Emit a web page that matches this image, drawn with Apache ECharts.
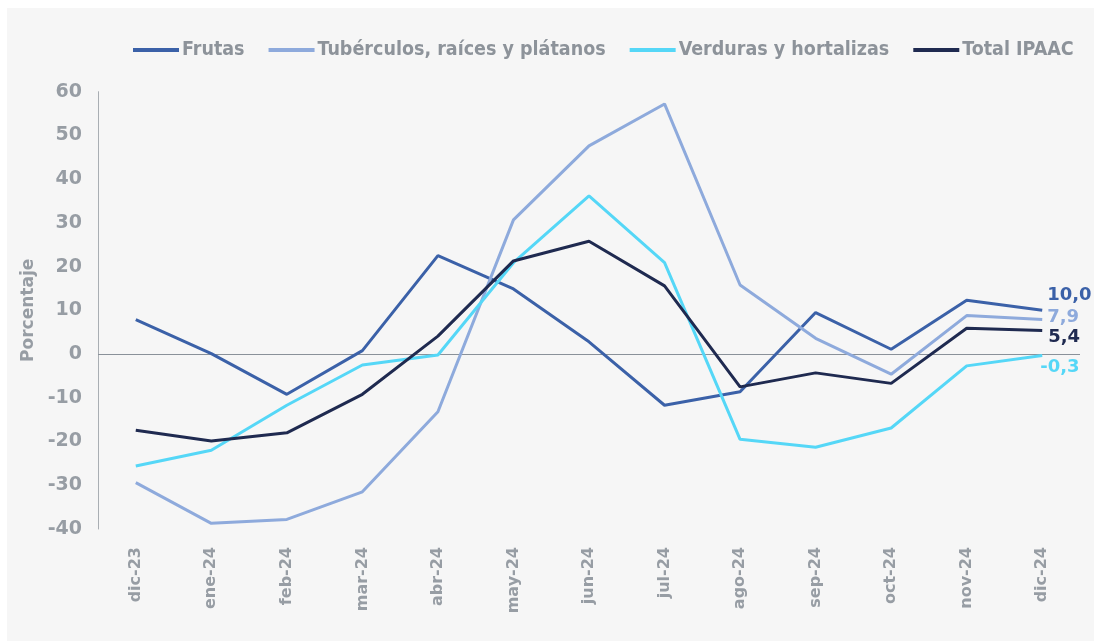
<!DOCTYPE html>
<html><head><meta charset="utf-8">
<script src="https://cdn.jsdelivr.net/npm/echarts@6/dist/echarts.min.js"></script>
<style>html,body{margin:0;padding:0;background:#fff;}#c{width:1094px;height:641px;}</style>
</head><body><div id="c"></div>
<script>
const categories = ['dic-23','ene-24','feb-24','mar-24','abr-24','may-24','jun-24','jul-24','ago-24','sep-24','oct-24','nov-24','dic-24'];
const frutas = [7.9, 0.1, -9.2, 0.8, 22.5, 14.9, 2.8, -11.7, -8.6, 9.5, 1.1, 12.3, 10.0];
const tuberculos = [-29.4, -38.7, -37.8, -31.5, -13.2, 30.7, 47.6, 57.2, 15.8, 3.6, -4.6, 8.8, 7.9];
const verduras = [-25.6, -22.0, -11.7, -2.5, -0.2, 20.9, 36.2, 20.9, -19.5, -21.3, -16.9, -2.7, -0.3];
const total = [-17.4, -19.9, -18.0, -9.2, 4.1, 21.3, 25.8, 15.6, -7.5, -4.3, -6.7, 5.9, 5.4];
const yTicks = [-40, -30, -20, -10, 0, 10, 20, 30, 40, 50, 60];
const seriesNames = ['Frutas', 'Tubérculos, raíces y plátanos', 'Verduras y hortalizas', 'Total IPAAC'];

const colors = ['#3b61a8', '#8eaadc', '#55d7f7', '#1f2a50'];
const grey = '#979da4';
const fam = '"DejaVu Sans", sans-serif';
const fmt = v => v.toFixed(1).replace('.', ',');
const endOffsets = [[0, -15], [0, -2], [-7, 12], [1, 7]];
const datas = [frutas, tuberculos, verduras, total];

const chart = echarts.init(document.getElementById('c'));
chart.setOption({
  backgroundColor: '#ffffff',
  animation: false,
  color: colors,
  graphic: [{type: 'rect', z: -10, shape: {x: 7, y: 8, width: 1087, height: 633}, style: {fill: '#f6f6f6'}}],
  legend: {
    left: 128, top: 35,
    itemWidth: 46, itemHeight: 4, itemGap: 24,
    icon: 'rect',
    textStyle: {color: '#8d939a', fontSize: 19.5, fontWeight: 'bold', fontFamily: '"DejaVu Sans Condensed", "Liberation Sans Narrow", sans-serif', padding: [0, 0, 0, -2]},
    data: seriesNames
  },
  grid: {left: 98, right: 14, top: 91.7, bottom: 112, containLabel: false},
  xAxis: {
    type: 'category', data: categories, boundaryGap: true,
    axisLine: {show: false}, axisTick: {show: false},
    axisLabel: {rotate: 90, margin: 18, color: grey, fontSize: 16, fontWeight: 'bold', fontFamily: fam}
  },
  yAxis: {
    type: 'value', min: yTicks[0], max: yTicks[yTicks.length - 1], interval: 10,
    name: 'Porcentaje', nameLocation: 'middle', nameRotate: 90, nameGap: 60,
    nameTextStyle: {color: grey, fontSize: 17, fontWeight: 'bold', fontFamily: fam},
    axisLine: {show: true, lineStyle: {color: '#a9aeb3', width: 1}},
    axisTick: {show: false}, splitLine: {show: false},
    axisLabel: {margin: 16, color: grey, fontSize: 19, fontWeight: 'bold', fontFamily: fam}
  },
  series: seriesNames.map((n, i) => ({
    name: n, type: 'line', data: datas[i], showSymbol: false, symbol: 'none',
    lineStyle: {width: 3, color: colors[i]},
    z: i === 3 ? 4 : 3,
    endLabel: {show: true, formatter: p => fmt(p.value), color: colors[i], fontSize: 18, fontWeight: 'bold', fontFamily: fam, offset: endOffsets[i], distance: 5},
    markLine: i === 0 ? {silent: true, symbol: 'none', label: {show: false}, lineStyle: {color: '#8a9199', width: 1, type: 'solid'}, data: [{yAxis: 0}], z: 1} : undefined
  }))
});
</script></body></html>
